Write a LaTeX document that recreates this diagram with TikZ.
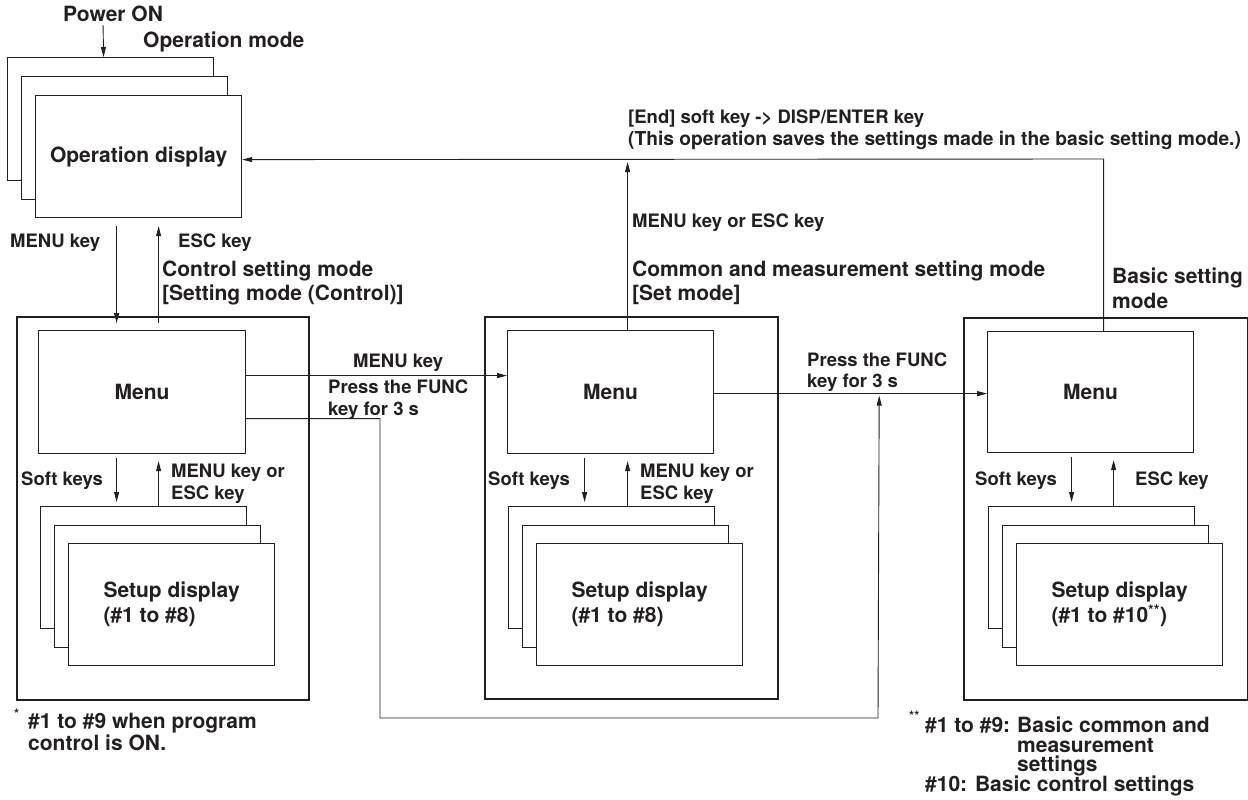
\documentclass[tikz,border=0pt]{standalone}
\usepackage{fontspec}
\setmainfont{TeX Gyre Heros}
\usetikzlibrary{arrows.meta,calc}
\definecolor{ink}{RGB}{35,31,32}
\begin{document}
\begin{tikzpicture}[x=1pt,y=-1pt,
  every node/.style={text=ink},
  big/.style={font=\bfseries\fontsize{21}{25}\selectfont, inner sep=0pt},
  small/.style={font=\bfseries\fontsize{18.5}{22}\selectfont, inner sep=0pt},
  lbl/.style={anchor=base west},
  starmark/.style={font=\bfseries\fontsize{13}{13}\selectfont, inner sep=0pt, anchor=base west},
  outerbox/.style={draw=ink, line width=1.8pt, anchor=north west, inner sep=0pt},
  panel/.style={draw=ink, line width=1.2pt, fill=white, anchor=north west, inner sep=0pt, minimum width=206pt},
  arr/.style={draw=ink, line width=0.9pt, -{Triangle[length=10pt,width=5pt]}},
  wire/.style={draw=ink, line width=0.9pt}]
\useasboundingbox (0,0) rectangle (1248,800);

% outer mode frames
\node[outerbox, minimum width=292pt, minimum height=383pt] (ctrlOuter) at (16,316) {};
\node[outerbox, minimum width=293pt, minimum height=382pt] (setOuter) at (484,316) {};
\node[outerbox, minimum width=284pt, minimum height=382pt] (basOuter) at (963,317) {};

% operation display stack
\node[panel, minimum height=123pt] (opA) at (7,57) {};
\node[panel, minimum height=123pt] (opB) at (21,76) {};
\node[panel, minimum height=122pt, big] (opC) at (35,95) {Operation display};

% menus
\node[panel, minimum width=207pt, minimum height=123pt, big] (ctrlMenu) at (38,330) {Menu};
\node[panel, minimum width=206pt, minimum height=123pt, big] (setMenu) at (507,330) {Menu};
\node[panel, minimum width=206pt, minimum height=121pt, big] (basMenu) at (987,331) {Menu};

% setup display stacks
\node[panel, minimum height=122pt] (ctrlSetA) at (40,506) {};
\node[panel, minimum height=122pt] (ctrlSetB) at (54,525) {};
\node[panel, minimum height=122pt, big, align=left] (ctrlSetC) at (68,543) {Setup display\\(\#1 to \#8)};

\node[panel, minimum height=122pt] (setSetA) at (508,506) {};
\node[panel, minimum height=122pt] (setSetB) at (522,525) {};
\node[panel, minimum height=122pt, big, align=left] (setSetC) at (536,543) {Setup display\\(\#1 to \#8)};

\node[panel, minimum height=122pt] (basSetA) at (988,506) {};
\node[panel, minimum height=122pt] (basSetB) at (1002,525) {};
\node[panel, minimum height=122pt, big, align=left] (basSetC) at (1016,543) {Setup display\\(\#1 to \#10\textsuperscript{**})};

% labels
\node[big, lbl] (power) at (63,22) {Power ON};
\node[big, lbl] (opmode) at (143,48) {Operation mode};
\node[small, lbl] (menukey1) at (10,247) {MENU key};
\node[small, lbl] (esckey1) at (178,247) {ESC key};
\node[big, lbl] (ctrlT1) at (162,276) {Control setting mode};
\node[big, lbl] (ctrlT2) at (162,300) {[Setting mode (Control)]};
\node[small, lbl] (soft1) at (21,485) {Soft keys};
\node[small, lbl] (menuesc1a) at (171,477) {MENU key or};
\node[small, lbl] (menuesc1b) at (171,499) {ESC key};
\node[small, lbl] (menukey2) at (353,367) {MENU key};
\node[small, lbl] (func1a) at (328,393) {Press the FUNC};
\node[small, lbl] (func1b) at (328,415) {key for 3 s};
\node[small, lbl] (end1) at (628,123) {[End] soft key -> DISP/ENTER key};
\node[small, lbl, font=\bfseries\fontsize{19.2}{22}\selectfont] (end2) at (628,145) {(This operation saves the settings made in the basic setting mode.)};
\node[small, lbl] (menuesc2) at (632,227) {MENU key or ESC key};
\node[big, lbl] (setT1) at (632,276) {Common and measurement setting mode};
\node[big, lbl] (setT2) at (632,300) {[Set mode]};
\node[small, lbl] (soft2) at (488,485) {Soft keys};
\node[small, lbl] (menuesc3a) at (640,477) {MENU key or};
\node[small, lbl] (menuesc3b) at (640,499) {ESC key};
\node[small, lbl] (func2a) at (807,366) {Press the FUNC};
\node[small, lbl] (func2b) at (807,387) {key for 3 s};
\node[big, lbl] (basT1) at (1112,283) {Basic setting};
\node[big, lbl] (basT2) at (1112,308) {mode};
\node[small, lbl] (soft3) at (975,485) {Soft keys};
\node[small, lbl] (esc3) at (1135,485) {ESC key};

% footnotes
\node[starmark] (star1) at (14,718) {*};
\node[big, lbl] (fn1a) at (28,728) {\#1 to \#9 when program};
\node[big, lbl] (fn1b) at (28,750) {control is ON.};
\node[starmark] (star2) at (909,720) {**};
\node[big, lbl] (fn2a) at (925,732) {\#1 to \#9:};
\node[big, lbl] (fn2b) at (1017,732) {Basic common and};
\node[big, lbl] (fn2c) at (1017,752) {measurement};
\node[big, lbl] (fn2d) at (1017,771) {settings};
\node[big, lbl] (fn2e) at (925,791) {\#10: Basic control settings};

% connectors
\draw[arr] ($(power.south)+(-10,3)$) -- ($(opA.north)+(-7,0)$);
\draw[arr] ($(opC.south)+(-22,8)$) -- ($(ctrlMenu.north)+(-25.5,-7)$);
\draw[arr] ($(ctrlMenu.north)+(16.5,-7)$) -- ($(opC.south)+(20,8)$);
\draw[arr] ($(ctrlMenu.south)+(-25.5,4)$) -- ($(ctrlSetA.north)+(-27,-4)$);
\draw[arr] ($(ctrlSetA.north)+(15,0)$) -- ($(ctrlMenu.south)+(16.5,7)$);

\draw[arr] ($(setMenu.south)+(-26,4)$) -- ($(setSetA.north)+(-27,-4)$);
\draw[arr] ($(setSetA.north)+(16,0)$) -- ($(setMenu.south)+(17,7)$);
\draw[arr] ($(setMenu.north)+(17,0)$) -- ($(setMenu.north)+(17,-168)$);

\draw[arr] ($(basMenu.south)+(-19,4)$) -- ($(basSetA.north)+(-20,-4)$);
\draw[arr] ($(basSetA.north)+(22,0)$) -- ($(basMenu.south)+(23,7)$);
\draw[arr] ($(basMenu.north)+(13,0)$) -- ($(basMenu.north)+(13,-172)$) -- ($(opC.east)+(0,3)$);

\draw[arr] ($(ctrlMenu.east)+(0,-16.5)$) -- ($(setMenu.west)+(0,-16.5)$);
\coordinate (fA) at (380,718);
\coordinate (fB) at (878,718);
\draw[arr] ($(ctrlMenu.east)+(0,26.5)$) -| (fA) -- (fB) -- ($(setMenu.east)+(165,3.5)$);
\draw[arr] ($(setMenu.east)+(0,1.5)$) -- ($(basMenu.west)+(0,1.5)$);
\end{tikzpicture}
\end{document}
